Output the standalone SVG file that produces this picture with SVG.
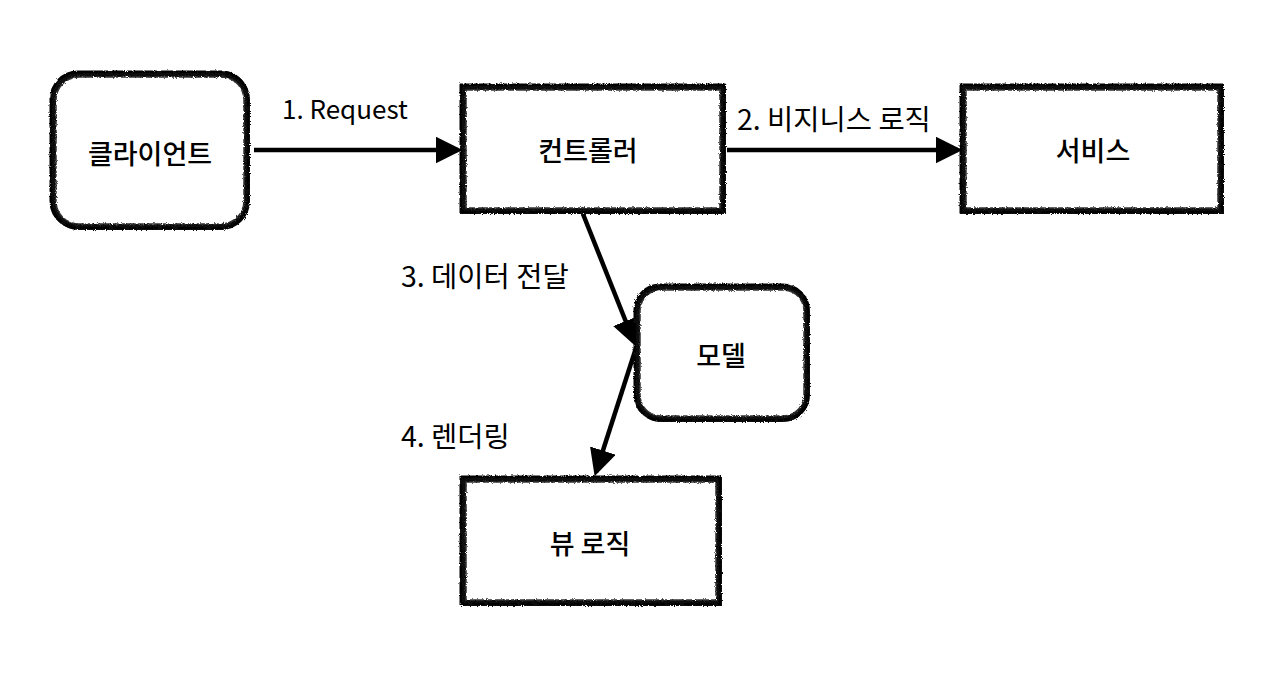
<svg xmlns="http://www.w3.org/2000/svg" width="1280" height="692" viewBox="0 0 1280 692">
<style>
.box{fill:#fff;stroke:#111;stroke-width:6;}
.rough{fill:none;stroke:#333;stroke-width:1.5;stroke-dasharray:14 3 6 2;}
.rough2{fill:none;stroke:#000;stroke-width:3;stroke-dasharray:30 4 12 3;}
.nt{font-family:"Noto Sans CJK KR","Noto Sans",sans-serif;font-size:27px;font-weight:500;fill:#000;text-anchor:middle;dominant-baseline:central;}
.lb{font-family:"Noto Sans CJK KR","Noto Sans",sans-serif;font-size:26px;fill:#000;}
.lk{font-size:28.5px;}
.cn{stroke:#000;stroke-width:4.5;fill:none;marker-end:url(#ah);}
</style>
<defs>
<marker id="ah" markerWidth="6" markerHeight="6" refX="5" refY="3" orient="auto" markerUnits="strokeWidth">
<path d="M0,0 L6,3 L0,6 z" fill="#000"/>
</marker>
<filter id="sk" x="-5%" y="-5%" width="110%" height="110%">
<feTurbulence type="fractalNoise" baseFrequency="0.9" numOctaves="2" seed="3" result="n"/>
<feDisplacementMap in="SourceGraphic" in2="n" scale="3"/>
</filter>
</defs>
<rect width="1280" height="692" fill="#fff"/>
<g id="connectors">
<line class="cn" x1="254" y1="150" x2="458" y2="150"/>
<line class="cn" x1="727" y1="150" x2="958" y2="150"/>
<line class="cn" x1="583" y1="214" x2="634" y2="342"/>
<line class="cn" x1="636" y1="348" x2="596" y2="472"/>
<text class="lb" x="282" y="119">1. Request</text>
<text class="lb lk" x="737" y="130">2. 비지니스 로직</text>
<text class="lb lk" x="401" y="287">3. 데이터 전달</text>
<text class="lb lk" x="401" y="447">4. 렌더링</text>
</g>
<g id="client">
<g filter="url(#sk)">
<rect class="box" x="53" y="74" width="194" height="153" rx="26"/>
<rect class="rough" x="56" y="77" width="188" height="147" rx="23"/>
<rect class="rough2" x="51" y="72" width="197" height="156" rx="27"/>
</g>
<text class="nt" x="150" y="152">클라이언트</text>
</g>
<g id="controller">
<g filter="url(#sk)">
<rect class="box" x="463" y="87" width="260" height="124"/>
<rect class="rough" x="466" y="90" width="254" height="118"/>
<rect class="rough2" x="461" y="85" width="263" height="127"/>
</g>
<text class="nt" x="588" y="149">컨트롤러</text>
</g>
<g id="service">
<g filter="url(#sk)">
<rect class="box" x="963" y="87" width="258" height="124"/>
<rect class="rough" x="966" y="90" width="252" height="118"/>
<rect class="rough2" x="961" y="85" width="261" height="127"/>
</g>
<text class="nt" x="1093" y="149">서비스</text>
</g>
<g id="model">
<g filter="url(#sk)">
<rect class="box" x="637" y="287" width="170" height="132" rx="24"/>
<rect class="rough" x="640" y="290" width="164" height="126" rx="21"/>
<rect class="rough2" x="635" y="285" width="173" height="135" rx="25"/>
</g>
<text class="nt" x="721" y="354">모델</text>
</g>
<g id="view">
<g filter="url(#sk)">
<rect class="box" x="463" y="479" width="256" height="124"/>
<rect class="rough" x="466" y="482" width="250" height="118"/>
<rect class="rough2" x="461" y="477" width="259" height="127"/>
</g>
<text class="nt" x="590" y="542">뷰 로직</text>
</g>
</svg>
